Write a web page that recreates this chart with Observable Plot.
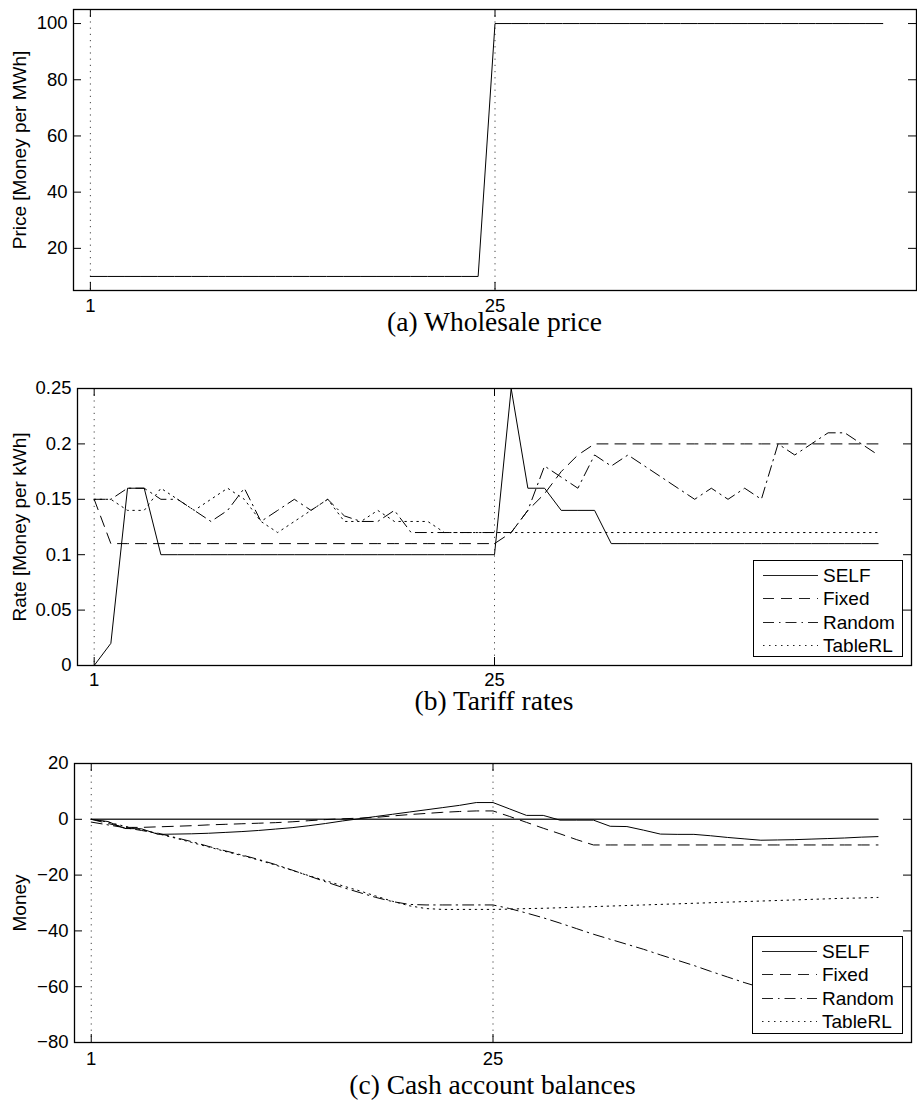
<!DOCTYPE html>
<html><head><meta charset="utf-8">
<script src="https://cdn.jsdelivr.net/npm/d3@7"></script>
<script src="https://cdn.jsdelivr.net/npm/@observablehq/plot@0.6"></script>
<style>
body{margin:0;background:#fff;}
#wrap{position:relative;width:917px;height:1108px;background:#fff;overflow:hidden;}
.panel{position:absolute;left:0;}
.caption{position:absolute;text-align:center;font-family:"Liberation Serif","Times New Roman",serif;font-size:27.5px;line-height:26px;color:#000;white-space:nowrap;}
.legend{position:absolute;background:#fff;border:1.3px solid #000;box-sizing:border-box;font-family:"Liberation Sans",Arial,Helvetica,sans-serif;font-size:19px;color:#000;z-index:5;}
.legend .row{position:absolute;left:0;height:23px;line-height:23px;}
.legend svg{position:absolute;left:9px;top:0;}
.legend span{position:absolute;left:69px;top:0;}
</style></head>
<body><div id="wrap"></div>
<script>
// ---------- data ----------
const hours = [1,2,3,4,5,6,7,8,9,10,11,12,13,14,15,16,17,18,19,20,21,22,23,24,25,26,27,28,29,30,31,32,33,34,35,36,37,38,39,40,41,42,43,44,45,46,47,48];
const xTicks = [1, 25];

// (a) wholesale price
const wholesalePrice = [10,10,10,10,10,10,10,10,10,10,10,10,10,10,10,10,10,10,10,10,10,10,10,10,
  100,100,100,100,100,100,100,100,100,100,100,100,100,100,100,100,100,100,100,100,100,100,100,100];
const priceTicks = [20, 40, 60, 80, 100];

// (b) tariff rates
const rateSelf = [0,0.02,0.16,0.16,0.10,0.10,0.10,0.10,0.10,0.10,0.10,0.10,0.10,0.10,0.10,0.10,0.10,0.10,0.10,0.10,0.10,0.10,0.10,0.10,0.10,
  0.25,0.16,0.16,0.14,0.14,0.14,0.11,0.11,0.11,0.11,0.11,0.11,0.11,0.11,0.11,0.11,0.11,0.11,0.11,0.11,0.11,0.11,0.11];
const rateFixed = [0.15,0.11,0.11,0.11,0.11,0.11,0.11,0.11,0.11,0.11,0.11,0.11,0.11,0.11,0.11,0.11,0.11,0.11,0.11,0.11,0.11,0.11,0.11,0.11,0.11,
  0.12,0.14,0.155,0.175,0.19,0.20,0.20,0.20,0.20,0.20,0.20,0.20,0.20,0.20,0.20,0.20,0.20,0.20,0.20,0.20,0.20,0.20,0.20];
const rateRandom = [0.15,0.15,0.16,0.16,0.15,0.15,0.14,0.13,0.14,0.16,0.13,0.14,0.15,0.14,0.15,0.135,0.13,0.13,0.14,0.12,
  0.12,0.12,0.12,0.12,0.12,0.12,0.14,0.18,0.17,0.16,0.19,0.18,0.19,0.18,0.17,0.16,0.15,0.16,0.15,0.16,
  0.15,0.20,0.19,0.20,0.21,0.21,0.20,0.19];
const rateTableRL = [0.15,0.15,0.14,0.14,0.16,0.15,0.14,0.15,0.16,0.15,0.13,0.12,0.13,0.14,0.15,0.13,0.13,0.14,0.13,0.13,0.13,0.12,
  0.12,0.12,0.12,0.12,0.12,0.12,0.12,0.12,0.12,0.12,0.12,0.12,0.12,0.12,0.12,0.12,0.12,0.12,0.12,0.12,0.12,0.12,0.12,0.12,0.12,0.12];
const rateTicks = [0, 0.05, 0.1, 0.15, 0.2, 0.25];

// (c) cash account balances
const cashSelf = [0,-0.8,-3.3,-3.4,-5.4,-5.3,-5.2,-5.0,-4.7,-4.4,-4.0,-3.5,-3.0,-2.3,-1.5,-0.6,0.2,1.0,1.8,2.6,3.4,4.2,5.0,6.0,6.0,
  3.7,1.4,1.4,-0.3,-0.3,-0.3,-2.5,-2.6,-3.9,-5.3,-5.4,-5.4,-5.9,-6.5,-7.0,-7.5,-7.4,-7.3,-7.1,-6.9,-6.7,-6.4,-6.2];
const cashFixed = [0,-1.5,-2.9,-2.9,-2.7,-2.5,-2.3,-2.0,-1.8,-1.6,-1.4,-1.2,-0.9,-0.5,-0.1,0.2,0.4,0.7,1.2,1.7,2.1,2.5,2.8,3.0,3.0,
  1.0,-1.1,-3.2,-5.2,-7.3,-9.2,-9.2,-9.2,-9.2,-9.2,-9.2,-9.2,-9.2,-9.2,-9.2,-9.2,-9.2,-9.2,-9.2,-9.2,-9.2,-9.2,-9.2];
const cashRandom = [-1,-2,-3,-4,-5,-6.5,-8,-9.7,-11.3,-12.8,-14.4,-16.2,-18.2,-20.3,-22.4,-24.4,-26.2,-28,-29.5,-30.5,
  -30.7,-30.7,-30.7,-30.7,-30.7,-32.0,-33.6,-35.3,-37.2,-39.2,-41.2,-43.0,-44.8,-46.6,-48.6,-50.5,-52.4,-54.5,-56.5,-58.5,
  -60.3,-62.1,-64.0,-65.8,-67.6,-69.4,-71.2,-73.0];
const cashTableRL = [0,-1,-2.5,-3.7,-5.2,-6.7,-8.3,-9.9,-11.5,-13.0,-14.6,-16.4,-18.3,-20.2,-22.0,-23.8,-25.6,-27.5,-29.4,-31.0,
  -32.0,-32.3,-32.3,-32.3,-32.3,-32.2,-32.0,-31.9,-31.7,-31.5,-31.3,-31.1,-30.9,-30.7,-30.5,-30.3,-30.1,-29.9,-29.7,-29.5,
  -29.3,-29.1,-28.9,-28.7,-28.5,-28.3,-28.2,-28.0];
const cashBaseline = [0,0,0,0,0,0,0,0,0,0,0,0,0,0,0,0,0,0,0,0,0,0,0,0,0,0,0,0,0,0,0,0,0,0,0,0,0,0,0,0,0,0,0,0,0,0,0,0,0];
const cashTicks = [-80, -60, -40, -20, 0, 20];

const legendNames = ["SELF", "Fixed", "Random", "TableRL"];

// ---------- styles ----------
const DASH = {solid: null, dashed: "11,7", dashdot: "11,5,1.5,5", dotted: "1.5,4.5"};
const FONT = "'Liberation Sans', Arial, Helvetica, sans-serif";
const minusFmt = d => d < 0 ? "\u2212" + Math.abs(d) : String(d);

const wrap = document.getElementById("wrap");

function panel(cfg) {
  const W = 917;
  const innerW = W - cfg.ml - cfg.mr, innerH = cfg.height - cfg.mt - cfg.mb;
  const marks = [
    Plot.ruleX(xTicks, {stroke: "#444", strokeWidth: 1, strokeDasharray: "1.2,5"})
  ];
  for (const s of cfg.series) {
    const rows = hours.map((h, i) => ({h, v: s.values[i]}));
    marks.push(Plot.line(rows, {x: "h", y: "v", stroke: s.color || "#000", strokeWidth: s.width || 1, strokeDasharray: s.dash}));
  }
  marks.push(
    Plot.ruleX(xTicks, {insetTop: innerH - 8, stroke: "#000"}),
    Plot.ruleX(xTicks, {insetBottom: innerH - 8, stroke: "#000"}),
    Plot.ruleY(cfg.yTicks, {insetRight: innerW - 8, stroke: "#000"}),
    Plot.ruleY(cfg.yTicks, {insetLeft: innerW - 8, stroke: "#000"}),
    Plot.frame({stroke: "#000", strokeWidth: 1.3}),
    Plot.text([cfg.yLabel], {frameAnchor: "left", textAnchor: "middle", lineAnchor: "middle", dx: -(cfg.ml - 19), rotate: -90, text: d => d, fontSize: 19, fill: "#000"})
  );
  const svg = Plot.plot({
    width: W, height: cfg.height,
    marginTop: cfg.mt, marginBottom: cfg.mb, marginLeft: cfg.ml, marginRight: cfg.mr,
    style: {fontFamily: FONT, fontSize: "18.5px", color: "#000", background: "transparent", overflow: "visible"},
    x: {domain: [0, 50], ticks: xTicks, tickSize: 0, tickPadding: cfg.xPad, tickFormat: d => String(d), label: null},
    y: {domain: cfg.yDomain, ticks: cfg.yTicks, tickSize: 0, tickPadding: 6, tickFormat: cfg.yFmt, label: null},
    marks
  });
  const div = document.createElement("div");
  div.className = "panel";
  div.style.top = cfg.top + "px";
  div.appendChild(svg);
  wrap.appendChild(div);

  const cap = document.createElement("div");
  cap.className = "caption";
  cap.style.left = cfg.ml + "px";
  cap.style.width = innerW + "px";
  cap.style.top = (cfg.capY - 13) + "px";
  cap.textContent = cfg.caption;
  wrap.appendChild(cap);

  if (cfg.legend) {
    const lg = document.createElement("div");
    lg.className = "legend";
    Object.assign(lg.style, {left: cfg.legend.x + "px", top: cfg.legend.y + "px", width: cfg.legend.w + "px", height: cfg.legend.h + "px"});
    const dashes = [DASH.solid, DASH.dashed, DASH.dashdot, DASH.dotted];
    legendNames.forEach((name, i) => {
      const row = document.createElement("div");
      row.className = "row";
      row.style.top = (3 + i * 23.3) + "px";
      row.style.width = "100%";
      row.innerHTML = `<svg width="56" height="23"><line x1="0" x2="55" y1="11.5" y2="11.5" stroke="#222" stroke-width="1" ${dashes[i] ? `stroke-dasharray="${dashes[i]}"` : ""}/></svg><span>${name}</span>`;
      lg.appendChild(row);
    });
    wrap.appendChild(lg);
  }
}

panel({
  top: 0, height: 315, mt: 9, mb: 25, ml: 73, mr: 1, xPad: 8,
  yDomain: [5, 105], yTicks: priceTicks, yFmt: d => String(d),
  yLabel: "Price [Money per MWh]",
  series: [{values: wholesalePrice, dash: DASH.solid}],
  caption: "(a) Wholesale price", capY: 322
});

panel({
  top: 370, height: 320, mt: 18, mb: 25, ml: 77, mr: 6, xPad: 7,
  yDomain: [0, 0.25], yTicks: rateTicks, yFmt: d => String(d),
  yLabel: "Rate [Money per kWh]",
  series: [
    {values: rateTableRL, dash: DASH.dotted},
    {values: rateRandom, dash: DASH.dashdot},
    {values: rateFixed, dash: DASH.dashed},
    {values: rateSelf, dash: DASH.solid}
  ],
  caption: "(b) Tariff rates", capY: 701,
  legend: {x: 753, y: 560, w: 150, h: 97}
});

panel({
  top: 740, height: 325, mt: 23, mb: 23, ml: 74, mr: 6, xPad: 9,
  yDomain: [-80, 20], yTicks: cashTicks, yFmt: minusFmt,
  yLabel: "Money",
  series: [
    {values: cashBaseline, dash: DASH.solid, color: "#333", width: 1.6},
    {values: cashTableRL, dash: DASH.dotted},
    {values: cashRandom, dash: DASH.dashdot},
    {values: cashFixed, dash: DASH.dashed},
    {values: cashSelf, dash: DASH.solid}
  ],
  caption: "(c) Cash account balances", capY: 1085,
  legend: {x: 752, y: 936, w: 151, h: 98}
});
</script></body></html>
